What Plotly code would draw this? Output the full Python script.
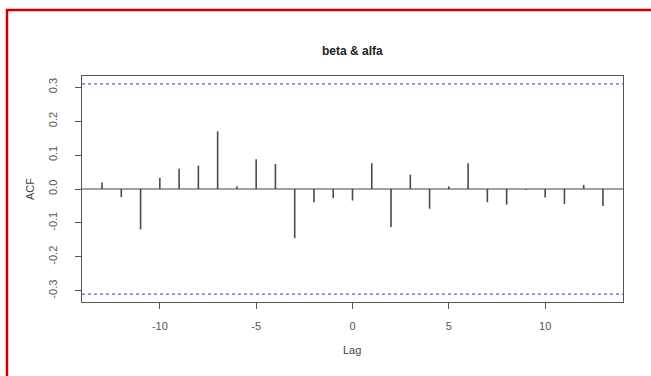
import plotly.graph_objects as go

# Cross-correlation estimates by lag
lags = list(range(-13, 14))
acf = [0.019, -0.024, -0.119, 0.033, 0.060, 0.069, 0.170, 0.008, 0.088, 0.074,
       -0.145, -0.039, -0.027, -0.034, 0.076, -0.112, 0.042, -0.058, 0.007, 0.076,
       -0.039, -0.046, -0.002, -0.025, -0.044, 0.012, -0.050]
ci = 0.31
title = "beta & alfa"
xticks = [-10, -5, 0, 5, 10]
yticks = [-0.3, -0.2, -0.1, 0.0, 0.1, 0.2, 0.3]

W, H = 651, 376
ml, mr, mt, mb = 82, 28, 76, 74
pw, ph = W - ml - mr, H - mt - mb

def px_x(x):
    return (x - ml) / pw

def px_y(y):
    return (H - mb - y) / ph

# vertical spikes from zero to each value
sx, sy = [], []
for l, v in zip(lags, acf):
    sx += [l, l, None]
    sy += [0, v, None]

fig = go.Figure()
fig.add_trace(go.Scatter(x=sx, y=sy, mode="lines",
                         line=dict(color="#4a4a4a", width=1.6),
                         hoverinfo="skip", showlegend=False))

xr = [-14.04, 14.04]
fig.add_shape(type="line", x0=0, x1=1, xref="paper", y0=0, y1=0, yref="y",
              line=dict(color="#444444", width=1.2))
for c in (ci, -ci):
    fig.add_shape(type="line", x0=0, x1=1, xref="paper", y0=c, y1=c, yref="y",
                  line=dict(color="#5a5ae6", width=1.2, dash="3px,3px"))

# red outer frame
fig.add_shape(type="rect", xref="paper", yref="paper",
              x0=px_x(7), x1=px_x(W + 10), y0=px_y(H + 10), y1=px_y(10),
              line=dict(color="#cc0000", width=2.5), layer="above")

fig.add_annotation(text="<b>" + title + "</b>", xref="paper", yref="paper",
                   x=px_x(352), y=px_y(42), showarrow=False,
                   font=dict(size=12, color="#222222"))
fig.add_annotation(text="Lag", xref="paper", yref="paper",
                   x=px_x(352), y=px_y(358), showarrow=False,
                   font=dict(size=11, color="#444444"))
fig.add_annotation(text="ACF", xref="paper", yref="paper", textangle=-90,
                   x=px_x(22), y=px_y(189), showarrow=False,
                   font=dict(size=11, color="#444444"))

fig.update_layout(
    width=W, height=H,
    margin=dict(l=ml, r=mr, t=mt, b=mb),
    paper_bgcolor="white", plot_bgcolor="white",
    font=dict(family="Liberation Sans, Arial, sans-serif", size=11, color="#555555"),
)
fig.update_xaxes(range=xr, tickvals=xticks, ticktext=[str(t) for t in xticks],
                 showgrid=False, zeroline=False, showline=True, mirror=True,
                 linecolor="#555555", linewidth=1.2, ticks="outside", ticklen=6,
                 tickcolor="#555555", ticklabelstandoff=8)
fig.update_yaxes(range=[-0.333, 0.333], tickvals=yticks,
                 ticktext=[f"{t:.1f}" for t in yticks],
                 showgrid=False, zeroline=False, showline=True, mirror=True,
                 linecolor="#555555", linewidth=1.2, ticks="outside", ticklen=6,
                 tickcolor="#555555", tickangle=-90, ticklabelstandoff=14)

fig.write_html("out.html")
